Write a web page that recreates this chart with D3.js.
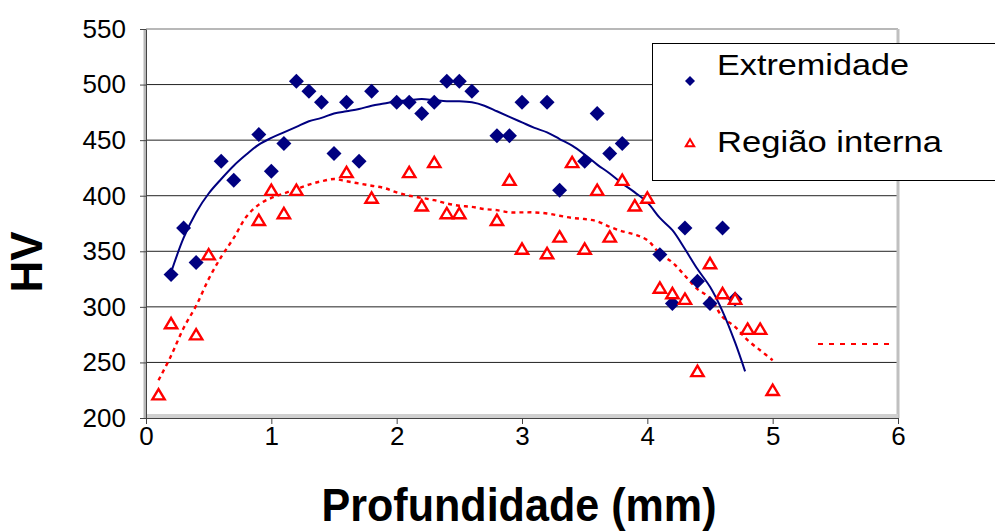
<!DOCTYPE html>
<html>
<head>
<meta charset="utf-8">
<script src="https://cdn.jsdelivr.net/npm/d3@7"></script>
<style>
  body { margin: 0; background: #fff; }
  svg { display: block; font-family: Arial, "Liberation Sans", sans-serif; }
</style>
</head>
<body>
<svg width="995" height="532"></svg>
<script>
// measured points, Extremidade (diamonds)
var extX = [0.2,0.3,0.4,0.6,0.7,0.9,1.0,1.1,1.2,1.3,1.4,1.5,1.6,1.7,1.8,2.0,2.1,2.2,2.3,2.4,2.5,2.6,2.8,2.9,3.0,3.2,3.3,3.5,3.6,3.7,3.8,4.1,4.2,4.3,4.4,4.5,4.6,4.7];
var extY = [329,371,340,431,414,455,422,447,503,494,484,438,484,431,494,484,484,474,484,503,503,494,454,454,484,484,405,431,474,438,447,347,303,371,323,303,371,307];

// measured points, Região interna (triangles)
var intX = [0.1,0.2,0.4,0.5,0.9,1.0,1.1,1.2,1.6,1.8,2.1,2.2,2.3,2.4,2.5,2.8,2.9,3.0,3.2,3.3,3.4,3.5,3.6,3.7,3.8,3.9,4.0,4.1,4.2,4.3,4.4,4.5,4.6,4.7,4.8,4.9,5.0];
var intY = [221,285,275,347,378,405,384,405,421,398,421,391,430,384,384,378,414,352,348,363,430,352,405,363,414,391,398,317,312,307,242,339,312,307,280,280,225];

// trend lines
var extTrendX = [0.2,0.3,0.4,0.5,0.6,0.7,0.8,0.9,1.0,1.1,1.2,1.3,1.4,1.5,1.6,1.7,1.8,1.9,2.0,2.1,2.2,2.3,2.4,2.5,2.6,2.7,2.8,2.9,3.0,3.1,3.2,3.3,3.4,3.5,3.6,3.7,3.8,3.9,4.0,4.1,4.2,4.3,4.4,4.5,4.6,4.7,4.78];
var extTrendY = [331,362,385,402,415,427,437,446,452,457,462,467,470,474,476,478,481,483,485,486,487,486,485,485,484,481,476,471,466,461,457,451,445,437,428,420,411,403,394,380,369,352,334,318,296,268,242];
var intTrendX = [0.1,0.2,0.3,0.4,0.5,0.6,0.7,0.8,0.9,1.0,1.1,1.2,1.3,1.4,1.5,1.6,1.7,1.8,1.9,2.0,2.1,2.2,2.3,2.4,2.5,2.6,2.7,2.8,2.9,3.0,3.1,3.2,3.3,3.4,3.5,3.6,3.7,3.8,3.9,4.0,4.1,4.2,4.3,4.4,4.5,4.6,4.7,4.8,4.9,5.0];
var intTrendY = [234,256,281,301,325,345,362,381,392,398,402,406,410,413,415,413,411,409,407,403,400,398,396,393,391,390,388,387,385,385,385,384,382,380,379,377,372,368,365,360,348,340,328,316,308,291,282,270,261,252];

var xTicks = [0,1,2,3,4,5,6];
var yTicks = [200,250,300,350,400,450,500,550];
var seriesNames = ['Extremidade', 'Região interna'];

var svg = d3.select('svg');
var x = d3.scaleLinear().domain([0, 6]).range([146, 898]);
var y = d3.scaleLinear().domain([200, 550]).range([418, 29]);

// gridlines
svg.append('g').selectAll('line')
    .data(yTicks.slice(1, -1))
    .enter().append('line')
    .attr('x1', x(0)).attr('x2', x(6))
    .attr('y1', d => y(d)).attr('y2', d => y(d))
    .attr('stroke', '#222').attr('stroke-width', 1);

// plot frame (grey, Excel style)
svg.append('line').attr('x1', x(0)).attr('x2', x(6)).attr('y1', y(550)).attr('y2', y(550))
    .attr('stroke', '#b8b8b8').attr('stroke-width', 2);
svg.append('line').attr('x1', x(6)).attr('x2', x(6)).attr('y1', y(550)).attr('y2', y(200))
    .attr('stroke', '#c0c0c0').attr('stroke-width', 3);
svg.append('line').attr('x1', x(0)).attr('x2', x(6)).attr('y1', y(200) - 2).attr('y2', y(200) - 2)
    .attr('stroke', '#d0d0d0').attr('stroke-width', 4);
svg.append('line').attr('x1', x(0) - 1).attr('x2', x(0) - 1).attr('y1', y(550)).attr('y2', y(200))
    .attr('stroke', '#b8b8b8').attr('stroke-width', 3);

// axes
var yAxis = svg.append('g')
    .attr('transform', 'translate(' + x(0) + ',0)')
    .call(d3.axisLeft(y).tickValues(yTicks).tickSize(6).tickPadding(14).tickSizeOuter(0));
var xAxis = svg.append('g')
    .attr('transform', 'translate(0,' + y(200) + ')')
    .call(d3.axisBottom(x).tickValues(xTicks).tickFormat(d3.format('d'))
        .tickSize(6).tickPadding(3).tickSizeOuter(0));
[yAxis, xAxis].forEach(a => {
    a.select('.domain').attr('stroke', '#444');
    a.selectAll('line').attr('stroke', '#444');
    a.selectAll('text').attr('font-size', 26).attr('fill', '#000')
        .attr('font-family', 'Arial, "Liberation Sans", sans-serif');
});

// trend lines
var line = d3.line().x(d => x(d[0])).y(d => y(d[1])).curve(d3.curveCatmullRom);
svg.append('path')
    .datum(d3.zip(intTrendX, intTrendY))
    .attr('d', line)
    .attr('fill', 'none').attr('stroke', '#ff0000').attr('stroke-width', 2.4)
    .attr('stroke-dasharray', '4,4');
svg.append('path')
    .datum(d3.zip(extTrendX, extTrendY))
    .attr('d', line)
    .attr('fill', 'none').attr('stroke', '#000080').attr('stroke-width', 2);

// markers
var diamond = d3.symbol().type(d3.symbolSquare).size(112);
svg.append('g').selectAll('path')
    .data(d3.zip(extX, extY))
    .enter().append('path')
    .attr('d', diamond)
    .attr('transform', d => 'translate(' + x(d[0]) + ',' + y(d[1]) + ') rotate(45)')
    .attr('fill', '#000080');

function tri(s) {
    return 'M0,' + (-s) + 'L' + (s * 1.1) + ',' + (s * 0.85) + 'L' + (-s * 1.1) + ',' + (s * 0.85) + 'Z';
}
svg.append('g').selectAll('path')
    .data(d3.zip(intX, intY))
    .enter().append('path')
    .attr('d', tri(5.6))
    .attr('transform', d => 'translate(' + x(d[0]) + ',' + y(d[1]) + ')')
    .attr('fill', '#fff').attr('stroke', '#ff0000').attr('stroke-width', 2.4);

// legend
var lg = svg.append('g');
lg.append('rect').attr('x', 652.5).attr('y', 43.5).attr('width', 360).attr('height', 137)
    .attr('fill', '#fff').attr('stroke', '#000').attr('stroke-width', 1);
lg.append('path').attr('d', d3.symbol().type(d3.symbolSquare).size(50))
    .attr('transform', 'translate(690,81) rotate(45)').attr('fill', '#000080');
lg.append('path').attr('d', tri(3.8))
    .attr('transform', 'translate(690,143)')
    .attr('fill', '#fff').attr('stroke', '#ff0000').attr('stroke-width', 2);
lg.selectAll('text.lab')
    .data(seriesNames)
    .enter().append('text')
    .attr('class', 'lab')
    .attr('x', 717)
    .attr('y', (d, i) => i ? 152 : 75)
    .attr('font-size', 29)
    .attr('textLength', (d, i) => i ? 225 : 192)
    .attr('lengthAdjust', 'spacingAndGlyphs')
    .text(d => d);
// trendline legend sample that sits outside the box
svg.append('line').attr('x1', 818).attr('x2', 895).attr('y1', 344).attr('y2', 344)
    .attr('stroke', '#ff0000').attr('stroke-width', 2).attr('stroke-dasharray', '5,6');

// axis titles
svg.append('text')
    .attr('x', 519).attr('y', 521)
    .attr('text-anchor', 'middle')
    .attr('font-size', 46).attr('font-weight', 'bold')
    .attr('textLength', 395).attr('lengthAdjust', 'spacingAndGlyphs')
    .text('Profundidade (mm)');
svg.append('text')
    .attr('transform', 'translate(42,262) rotate(-90)')
    .attr('text-anchor', 'middle')
    .attr('font-size', 44).attr('font-weight', 'bold')
    .text('HV');
</script>
</body>
</html>
